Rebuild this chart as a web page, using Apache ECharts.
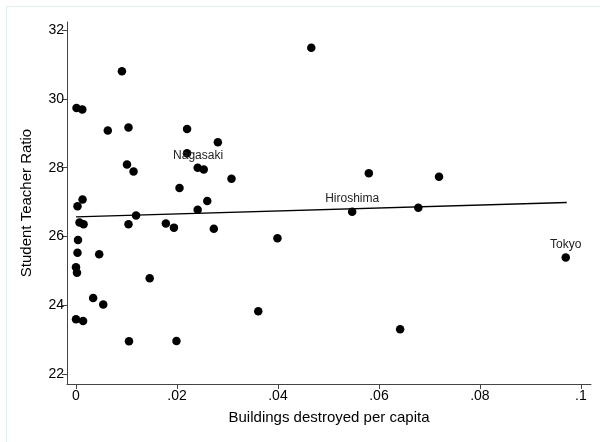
<!DOCTYPE html>
<html>
<head>
<meta charset="utf-8">
<script src="https://cdn.jsdelivr.net/npm/echarts@6/dist/echarts.min.js"></script>
<style>
  html, body { margin: 0; padding: 0; background: #fff; }
  #chart { width: 600px; height: 442px; }
</style>
</head>
<body>
<div id="chart"></div>
<script>
// buildings destroyed per capita vs student teacher ratio
const destroyed = [
  0.0001, 0.00125, 0.0063, 0.0104, 0.0101, 0.0114, 0.0013, 0.0091, 0.0003, 0.022,
  0.022, 0.0281, 0.0241, 0.0253, 0.0308, 0.0205, 0.026, 0.0241, 0.0119, 0.0466,
  0.058, 0.0719, 0.0547, 0.0678, 0.0007, 0.0015, 0.0104, 0.0178, 0.0194, 0.0004,
  0.0003, 0.0046, 0, 0.0002, 0.0146, 0.0034, 0.0054, 0, 0.0014, 0.0105,
  0.0199, 0.0273, 0.0399, 0.0361, 0.0642, 0.097
]
const ratio = [
  29.73, 29.69, 29.08, 29.17, 28.09, 27.89, 27.08, 30.80, 26.88, 29.12,
  28.42, 28.74, 28.0, 27.95, 27.68, 27.41, 27.03, 26.78, 26.61, 31.48,
  27.84, 27.74, 26.72, 26.84, 26.41, 26.36, 26.36, 26.38, 26.26, 25.90,
  25.53, 25.49, 25.11, 24.95, 24.79, 24.22, 24.03, 23.60, 23.55, 22.96,
  22.97, 26.23, 25.95, 23.83, 23.31, 25.39
]
// labelled cities: index into the arrays above
const cityIdx = { 10: 'Nagasaki', 22: 'Hiroshima', 45: 'Tokyo' }

// fitted line ends
const fitX = [0, 0.0972]
const fitY = [26.57, 26.99]

const xTicks = [0, 0.02, 0.04, 0.06, 0.08, 0.1]
const yTicks = [22, 24, 26, 28, 30, 32]

const fontFam = '"Liberation Sans", Arial, sans-serif'
const axisColor = '#444'

const fmtX = (v) => {
  if (v === 0) return '0'
  return String(+v.toFixed(2)).replace(/^0/, '')
}

const points = destroyed.map((x, i) => {
  const p = { value: [x, ratio[i]] }
  if (cityIdx[i]) {
    p.label = {
      show: true,
      formatter: cityIdx[i],
      position: 'top',
      distance: 3
    }
    if (cityIdx[i] === 'Nagasaki') {
      p.label.position = 'inside'
      p.label.offset = [11, 2]
    }
  }
  return p
})

const option = {
  animation: false,
  backgroundColor: '#fff',
  graphic: [
    { type: 'line', shape: { x1: 6, y1: 6.5, x2: 600, y2: 6.5 }, style: { stroke: '#e3ecee', lineWidth: 1 } },
    { type: 'line', shape: { x1: 6.5, y1: 6, x2: 6.5, y2: 442 }, style: { stroke: '#e3ecee', lineWidth: 1 } }
  ],
  grid: {
    left: 67,
    right: 9,
    top: 22,
    bottom: 58
  },
  xAxis: {
    type: 'value',
    min: -0.00178,
    max: 0.102,
    name: 'Buildings destroyed per capita',
    nameLocation: 'middle',
    nameGap: 26,
    nameTextStyle: { color: '#000', fontSize: 15, fontFamily: fontFam },
    splitLine: { show: false },
    axisLine: { show: true, onZero: false, lineStyle: { color: axisColor, width: 1 } },
    axisTick: { show: true, length: 5, customValues: xTicks, lineStyle: { color: axisColor } },
    axisLabel: {
      customValues: xTicks,
      formatter: fmtX,
      color: '#000',
      fontSize: 14,
      fontFamily: fontFam,
      margin: 5
    }
  },
  yAxis: {
    type: 'value',
    min: 21.72,
    max: 32.23,
    name: 'Student Teacher Ratio',
    nameLocation: 'middle',
    nameGap: 33,
    nameTextStyle: { color: '#000', fontSize: 15, fontFamily: fontFam },
    splitLine: { show: false },
    axisLine: { show: true, onZero: false, lineStyle: { color: axisColor, width: 1 } },
    axisTick: { show: true, length: 5, customValues: yTicks, lineStyle: { color: axisColor } },
    axisLabel: {
      customValues: yTicks,
      color: '#000',
      fontSize: 14,
      fontFamily: fontFam,
      margin: 3
    }
  },
  series: [
    {
      type: 'line',
      data: fitX.map((x, i) => [x, fitY[i]]),
      showSymbol: false,
      silent: true,
      z: 1,
      lineStyle: { color: '#000', width: 1.3 }
    },
    {
      type: 'scatter',
      data: points,
      symbolSize: 8.5,
      z: 2,
      itemStyle: { color: '#000', opacity: 1 },
      label: {
        color: '#222',
        fontSize: 12,
        fontFamily: fontFam
      }
    }
  ]
}

const echart = echarts.init(document.getElementById('chart'))
echart.setOption(option)
</script>
</body>
</html>
